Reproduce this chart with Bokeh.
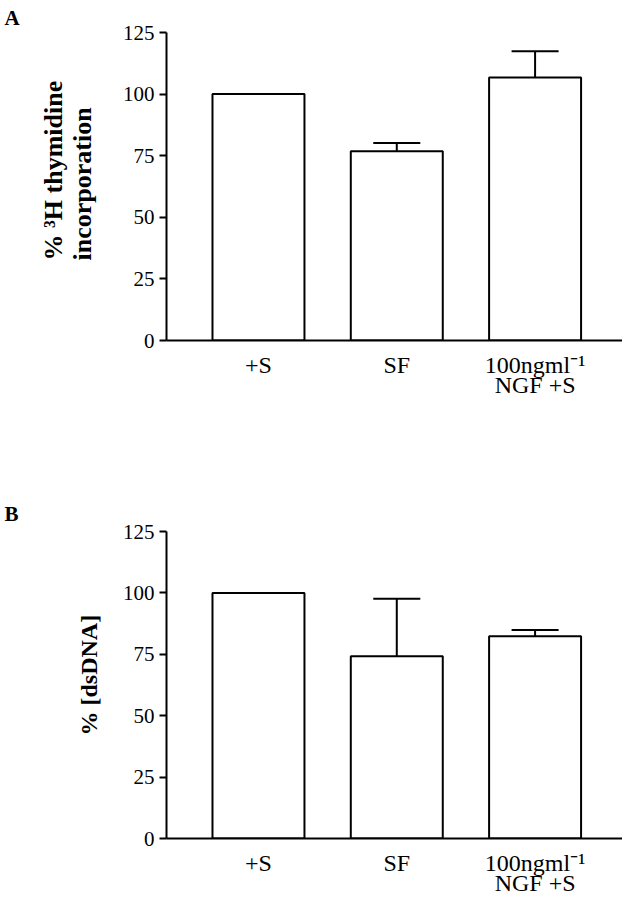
from bokeh.plotting import figure
from bokeh.models import Range1d, FixedTicker, Title
from bokeh.layouts import column
from bokeh.embed import file_html
from bokeh.resources import INLINE

# ---- data ----
categories = ["+S", "SF", "100ngml\u207b\u00b9\nNGF +S"]
positions = [1, 2, 3]
thymidine_mean = [100.0, 76.8, 106.7]
thymidine_err = [0.0, 3.4, 10.7]
dsdna_mean = [100.0, 74.2, 82.3]
dsdna_err = [0.0, 23.4, 2.6]
y_ticks = [0, 25, 50, 75, 100, 125]

SERIF = "Liberation Serif"


def make_panel(means, errs, ylabel, letter, height, border_top, frame_h,
               label_size, label_offset, label_standoff, letter_standoff):
    p = figure(width=622, height=height, output_backend="svg",
               toolbar_location=None, x_range=Range1d(0.335, 3.632),
               y_range=Range1d(0, 125), min_border_left=166,
               min_border_right=0, min_border_top=border_top,
               min_border_bottom=height - border_top - frame_h)
    p.outline_line_color = None
    p.grid.visible = False
    p.background_fill_color = "white"
    p.border_fill_color = "white"

    p.vbar(x=positions, top=means, bottom=0, width=0.665,
           fill_color="white", line_color="black", line_width=2)

    xs = [x for x, e in zip(positions, errs) if e > 0]
    lo = [m for m, e in zip(means, errs) if e > 0]
    hi = [m + e for m, e in zip(means, errs) if e > 0]
    p.segment(x0=xs, y0=lo, x1=xs, y1=hi, line_color="black", line_width=2)
    p.segment(x0=[x - 0.17 for x in xs], y0=hi, x1=[x + 0.17 for x in xs],
              y1=hi, line_color="black", line_width=2)

    # y axis
    ya = p.yaxis[0]
    ya.ticker = FixedTicker(ticks=y_ticks)
    ya.minor_tick_line_color = None
    ya.major_tick_in = 0
    ya.major_tick_out = 7
    ya.major_tick_line_width = 2
    ya.axis_line_width = 2
    ya.axis_line_color = "black"
    ya.major_label_text_font = SERIF
    ya.major_label_text_font_size = "21px"
    ya.major_label_text_color = "black"
    ya.major_label_standoff = 5

    # y label as a side title (offset positions it along the axis)
    p.add_layout(Title(text=ylabel, align="left", offset=label_offset,
                       text_font=SERIF, text_font_style="bold",
                       text_font_size=label_size, text_color="black",
                       text_line_height=1.0, standoff=label_standoff), "left")

    # x axis
    xa = p.xaxis[0]
    xa.ticker = FixedTicker(ticks=positions)
    xa.major_label_overrides = {pos: lab for pos, lab in zip(positions, categories)}
    xa.minor_tick_line_color = None
    xa.major_tick_line_color = None
    xa.major_tick_in = 0
    xa.major_tick_out = 0
    xa.axis_line_width = 2
    xa.axis_line_color = "black"
    xa.major_label_text_font = SERIF
    xa.major_label_text_font_size = "24px"
    xa.major_label_text_color = "black"
    xa.major_label_text_line_height = 0.78
    xa.major_label_standoff = 11

    # panel letter
    p.add_layout(Title(text=letter, align="left", offset=-162,
                       text_font=SERIF, text_font_style="bold",
                       text_font_size="21px", text_color="black",
                       standoff=letter_standoff), "above")
    return p


pA = make_panel(thymidine_mean, thymidine_err,
                "% \u00b3H thymidine\nincorporation", "A", 494, 32, 308,
                "26px", 80, 46, 6)
pB = make_panel(dsdna_mean, dsdna_err, "% [dsDNA]", "B", 406, 37, 307,
                "24px", 103, 36, 11)

layout = column(pA, pB, spacing=0)
open("out.html", "w").write(file_html(layout, INLINE))
